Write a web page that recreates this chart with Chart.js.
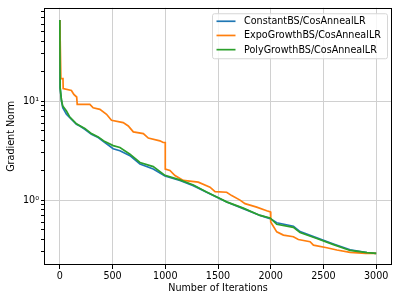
<!DOCTYPE html>
<html>
<head>
<meta charset="utf-8">
<script src="https://cdn.jsdelivr.net/npm/chart.js@4.4.0/dist/chart.umd.min.js"></script>
<style>
  html, body { margin: 0; padding: 0; background: #fff; }
</style>
</head>
<body>
<canvas id="chart" width="399" height="302"></canvas>
<script>
// series labels
var seriesNames = ['ConstantBS/CosAnnealLR', 'ExpoGrowthBS/CosAnnealLR', 'PolyGrowthBS/CosAnnealLR'];

// ConstantBS (blue)
var constIters = [0, 3, 16, 28, 63, 95, 158, 190, 237, 300, 364, 427, 506, 570, 665, 760, 886, 997, 1139, 1266, 1392, 1519, 1582, 1740, 1899, 1994, 2057, 2215, 2278, 2437, 2595, 2753, 2912, 3000];
var constVals  = [66, 13.6, 10, 8.6, 7.36, 6.8, 5.84, 5.6, 5.2, 4.63, 4.28, 3.82, 3.30, 3.15, 2.81, 2.32, 2.06, 1.75, 1.58, 1.40, 1.20, 1.03, 0.955, 0.82, 0.70, 0.65, 0.59, 0.545, 0.48, 0.415, 0.36, 0.315, 0.295, 0.29];

// ExpoGrowthBS (orange)
var expoIters = [0, 10, 30, 32, 110, 133, 160, 165, 285, 316, 380, 443, 490, 601, 649, 697, 792, 839, 949, 980, 1000, 1000, 1044, 1092, 1171, 1313, 1424, 1472, 1582, 1630, 1709, 1756, 1867, 1962, 1998, 2000, 2057, 2120, 2215, 2262, 2373, 2405, 2532, 2627, 2753, 2900, 3000];
var expoVals  = [66, 16.9, 16.9, 13.4, 12.8, 11.7, 11.0, 9.27, 9.27, 8.57, 8.26, 7.36, 6.4, 6.06, 5.61, 4.89, 4.70, 4.23, 3.97, 3.82, 3.82, 2.06, 1.99, 1.77, 1.58, 1.52, 1.35, 1.22, 1.20, 1.11, 1.0, 0.92, 0.85, 0.78, 0.76, 0.60, 0.478, 0.443, 0.426, 0.40, 0.38, 0.351, 0.33, 0.313, 0.296, 0.29, 0.29];

// PolyGrowthBS (green)
var polyIters = constIters;
var polyVals  = [66, 13.6, 10.2, 8.9, 7.95, 6.9, 5.9, 5.65, 5.3, 4.7, 4.35, 3.9, 3.55, 3.40, 2.91, 2.40, 2.18, 1.78, 1.60, 1.42, 1.21, 1.04, 0.96, 0.83, 0.70, 0.66, 0.57, 0.53, 0.47, 0.41, 0.355, 0.31, 0.295, 0.29];

var xTicks = [0, 500, 1000, 1500, 2000, 2500, 3000];
var yMajor = [1, 10];
var yMinor = [0.3, 0.4, 0.5, 0.6, 0.7, 0.8, 0.9, 2, 3, 4, 5, 6, 7, 8, 9, 20, 30, 40, 50, 60, 70, 80];

function toPoints(xs, ys) {
    return xs.map(function(x, i) { return { x: x, y: ys[i] }; });
}

var colors = ['#1f77b4', '#ff7f0e', '#2ca02c'];
var font = { family: 'DejaVu Sans', size: 9.6 };

// frame + legend box drawn like matplotlib
var framePlugin = {
    id: 'frame',
    afterDraw: function(chart) {
        var ctx = chart.ctx, a = chart.chartArea;
        ctx.save();
        ctx.strokeStyle = '#000';
        ctx.lineWidth = 1;
        ctx.strokeRect(Math.round(a.left) + 0.5, Math.round(a.top) + 0.5,
                       Math.round(a.right - a.left) - 1, Math.round(a.bottom - a.top) - 1);

        // legend
        var bw = 175, bh = 45;
        var bx = a.right - 4.5 - bw, by = a.top + 6;
        ctx.beginPath();
        if (ctx.roundRect) ctx.roundRect(bx, by, bw, bh, 2); else ctx.rect(bx, by, bw, bh);
        ctx.fillStyle = 'rgba(255,255,255,0.8)';
        ctx.fill();
        ctx.strokeStyle = '#d6d6d6';
        ctx.stroke();
        ctx.font = font.size + 'px ' + font.family;
        ctx.textBaseline = 'middle';
        for (var i = 0; i < seriesNames.length; i++) {
            var yy = by + 7.5 + i * 14.2;
            ctx.strokeStyle = colors[i];
            ctx.lineWidth = 1.7;
            ctx.beginPath();
            ctx.moveTo(bx + 4, yy);
            ctx.lineTo(bx + 23, yy);
            ctx.stroke();
            ctx.fillStyle = '#000';
            ctx.fillText(seriesNames[i], bx + 31.5, yy + 0.5);
        }
        ctx.restore();
    }
};

var ctx = document.getElementById('chart').getContext('2d');
var chart = new Chart(ctx, {
    type: 'line',
    data: {
        datasets: [
            { label: seriesNames[0], data: toPoints(constIters, constVals), borderColor: colors[0], order: 2 },
            { label: seriesNames[1], data: toPoints(expoIters, expoVals), borderColor: colors[1], order: 1 },
            { label: seriesNames[2], data: toPoints(polyIters, polyVals), borderColor: colors[2], order: 0 }
        ]
    },
    options: {
        responsive: false,
        animation: false,
        devicePixelRatio: 1,
        layout: { padding: { top: 6, right: 7, left: 0, bottom: 0 } },
        elements: {
            line: { borderWidth: 1.7, tension: 0, fill: false },
            point: { radius: 0 }
        },
        plugins: {
            legend: { display: false },
            tooltip: { enabled: false }
        },
        scales: {
            x: {
                type: 'linear',
                min: -150,
                max: 3150,
                afterBuildTicks: function(scale) {
                    scale.ticks = xTicks.map(function(v) { return { value: v }; });
                },
                afterFit: function(scale) { scale.height = 37; },
                ticks: {
                    color: '#000', font: font, padding: 2, maxRotation: 0,
                    callback: function(v) { return String(v); }
                },
                grid: { color: '#d0d0d0', tickColor: '#000', tickLength: 4 },
                border: { display: false },
                title: { display: true, text: 'Number of Iterations', color: '#000', font: font, padding: { top: 0, bottom: 8 } }
            },
            y: {
                type: 'logarithmic',
                min: 0.221,
                max: 87.7,
                afterBuildTicks: function(scale) {
                    scale.ticks = yMinor.concat(yMajor).sort(function(p, q) { return p - q; })
                        .map(function(v) { return { value: v, major: yMajor.indexOf(v) >= 0 }; });
                },
                afterFit: function(scale) { scale.width = 44; },
                ticks: {
                    color: '#000', font: font, padding: 2, autoSkip: false,
                    callback: function(v) { return v === 1 ? '10⁰' : (v === 10 ? '10¹' : ''); }
                },
                grid: {
                    color: function(c) { return c.tick && yMajor.indexOf(c.tick.value) >= 0 ? '#d0d0d0' : 'rgba(0,0,0,0)'; },
                    tickColor: '#000',
                    tickLength: 3
                },
                border: { display: false },
                title: { display: true, text: 'Gradient Norm', color: '#000', font: font, padding: { top: 6, bottom: 0 } }
            }
        }
    },
    plugins: [framePlugin]
});
</script>
</body>
</html>
